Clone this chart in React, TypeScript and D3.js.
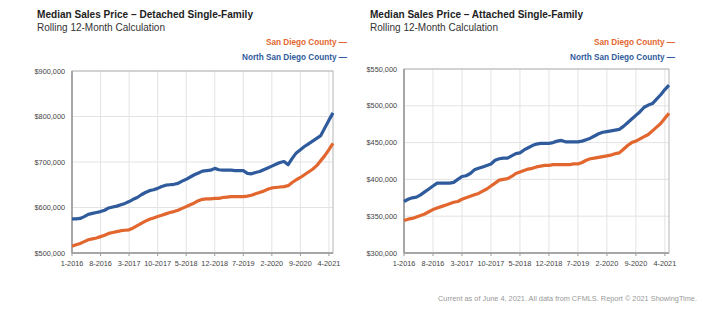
import React from "react";
import * as d3 from "d3";

const tickLabels = ["1-2016", "8-2016", "3-2017", "10-2017", "5-2018", "12-2018", "7-2019", "2-2020", "9-2020", "4-2021"];
const tickMonths = [0, 7, 14, 21, 28, 35, 42, 49, 56, 63];
const seriesNames = ["San Diego County", "North San Diego County"];

// Detached single-family, $ thousands, monthly 1-2016 .. 5-2021
const detachedSD = [515, 518, 521, 525, 529, 531, 533, 536, 539, 543, 545, 547, 549, 550, 551, 555, 560, 565, 570, 574, 577, 580, 583, 586, 589, 591, 594, 598, 602, 606, 610, 615, 618, 619, 619, 620, 620, 622, 623, 624, 624, 624, 624, 625, 627, 630, 633, 636, 640, 643, 644, 645, 646, 648, 655, 661, 666, 672, 678, 684, 692, 703, 714, 727, 741];
const detachedNSD = [575, 575, 576, 580, 585, 587, 589, 591, 594, 599, 601, 603, 606, 609, 613, 618, 622, 628, 633, 637, 639, 642, 646, 649, 650, 651, 653, 658, 662, 667, 672, 676, 680, 681, 682, 686, 683, 682, 682, 682, 681, 681, 681, 675, 674, 677, 679, 683, 687, 691, 695, 699, 701, 694, 708, 720, 727, 734, 740, 746, 752, 758, 775, 792, 808];

// Attached single-family
const attachedSD = [344, 346, 347, 349, 351, 353, 356, 359, 361, 363, 365, 367, 369, 370, 373, 375, 377, 379, 381, 384, 387, 391, 395, 399, 400, 401, 404, 408, 410, 412, 414, 415, 417, 418, 419, 419, 420, 420, 420, 420, 420, 421, 421, 423, 426, 428, 429, 430, 431, 432, 433, 435, 436, 441, 446, 450, 452, 455, 458, 461, 466, 471, 476, 483, 490];
const attachedNSD = [370, 373, 375, 376, 379, 383, 387, 391, 395, 395, 395, 395, 396, 400, 404, 405, 408, 413, 415, 417, 419, 421, 426, 428, 429, 429, 432, 435, 436, 440, 443, 446, 448, 449, 449, 449, 450, 452, 453, 451, 451, 451, 451, 452, 454, 456, 459, 462, 464, 465, 466, 467, 468, 472, 477, 482, 487, 492, 498, 501, 503, 509, 515, 522, 528];

const detachedTicks = [500, 600, 700, 800, 900];
const attachedTicks = [300, 350, 400, 450, 500, 550];

const ORANGE = "#e2672f";
const BLUE = "#2f5b9c";
const SANS = "'Liberation Sans', Arial, sans-serif";

type ChartProps = {
  title: string;
  titleLen: number;
  x0: number;
  x1: number;
  y0: number;
  y1: number;
  titleX: number;
  legendX: number;
  yTicks: number[];
  sd: number[];
  nsd: number[];
};

function Chart({ title, titleLen, x0, x1, y0, y1, titleX, legendX, yTicks, sd, nsd }: ChartProps) {
  const x = d3.scaleLinear().domain([0, 64]).range([x0, x1]);
  const y = d3.scaleLinear().domain([yTicks[0], yTicks[yTicks.length - 1]]).range([y1, y0]);
  const line = d3.line<number>().x((_, i) => x(i)).y((d) => y(d));
  const fmt = (v: number) => "$" + d3.format(",")(v * 1000);
  return (
    <g>
      <text x={titleX} y={18} fontFamily={SANS} fontWeight="bold" fontSize={11.5} fill="#1e1e1e" textLength={titleLen} lengthAdjust="spacingAndGlyphs">{title}</text>
      <text x={titleX} y={31} fontFamily={SANS} fontSize={10.5} fill="#333" textLength={128} lengthAdjust="spacingAndGlyphs">Rolling 12-Month Calculation</text>
      <text x={legendX - 81} y={45} fontFamily={SANS} fontWeight="bold" fontSize={8.5} fill={ORANGE} textLength={81} lengthAdjust="spacingAndGlyphs">{seriesNames[0] + " \u2014"}</text>
      <text x={legendX - 105} y={60} fontFamily={SANS} fontWeight="bold" fontSize={8.5} fill={BLUE} textLength={105} lengthAdjust="spacingAndGlyphs">{seriesNames[1] + " \u2014"}</text>
      {tickMonths.map((m, i) => (
        <g key={"vx" + i}>
          <line x1={x(m)} x2={x(m)} y1={y0} y2={y1} stroke="#e3e3e3" strokeWidth={1} />
          <line x1={x(m)} x2={x(m)} y1={y1} y2={y1 + 3} stroke="#999" strokeWidth={1} />
          <text x={x(m)} y={266} textAnchor="middle" fontFamily={SANS} fontSize={7.3} fill="#444">{tickLabels[i]}</text>
        </g>
      ))}
      {yTicks.map((v, i) => (
        <g key={"hy" + i}>
          <line x1={x0} x2={x1} y1={y(v)} y2={y(v)} stroke="#e3e3e3" strokeWidth={1} />
          <text x={x0 - 7} y={y(v) + 2.5} textAnchor="end" fontFamily={SANS} fontSize={7.3} fill="#444">{fmt(v)}</text>
        </g>
      ))}
      <rect x={x0} y={y0} width={x1 - x0} height={y1 - y0} fill="none" stroke="#b5b5b5" strokeWidth={1} />
      <line x1={x0} x2={x0} y1={y0} y2={y1} stroke="#999" strokeWidth={1.5} />
      <line x1={x0} x2={x1} y1={y1} y2={y1} stroke="#999" strokeWidth={1.5} />
      <path d={line(sd) || ""} fill="none" stroke={ORANGE} strokeWidth={3.2} strokeLinejoin="round" />
      <path d={line(nsd) || ""} fill="none" stroke={BLUE} strokeWidth={3.2} strokeLinejoin="round" />
    </g>
  );
}

export default function App() {
  return (
    <svg width={725} height={321} style={{ position: "absolute", left: 0, top: 0, background: "#fff" }}>
      <rect width={725} height={321} fill="#fff" />
      <Chart title="Median Sales Price – Detached Single-Family" titleLen={216} x0={72} x1={333} y0={71} y1={253} titleX={37} legendX={347} yTicks={detachedTicks} sd={detachedSD} nsd={detachedNSD} />
      <Chart title="Median Sales Price – Attached Single-Family" titleLen={213} x0={404} x1={669} y0={69} y1={253} titleX={370} legendX={675} yTicks={attachedTicks} sd={attachedSD} nsd={attachedNSD} />
      <text x={438} y={301} fontFamily={SANS} fontSize={7.2} fill="#999" textLength={259} lengthAdjust="spacingAndGlyphs">Current as of June 4, 2021. All data from CFMLS. Report © 2021 ShowingTime.</text>
    </svg>
  );
}
